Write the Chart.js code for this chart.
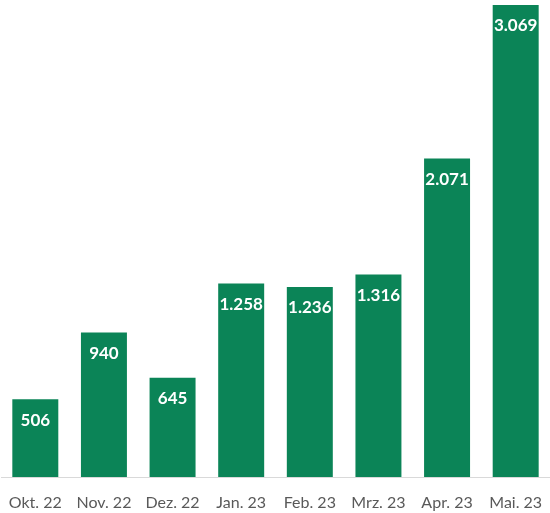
<html>
  <head>
    <title>Monatswerte</title>
    <script src="https://cdn.jsdelivr.net/npm/chart.js@4.4.0/dist/chart.umd.min.js"></script>
    <style>
      body { margin: 0; background: #fff; }
      #wrap { width: 550px; height: 513px; }
    </style>
  </head>
  <body>
    <div id="wrap"><canvas id="bar-chart"></canvas></div>
  </body>

  <script>
    var months = ["Okt. 22", "Nov. 22", "Dez. 22", "Jan. 23", "Feb. 23", "Mrz. 23", "Apr. 23", "Mai. 23"];
    var values = [506, 940, 645, 1258, 1236, 1316, 2071, 3069];
    var valueText = ["506", "940", "645", "1.258", "1.236", "1.316", "2.071", "3.069"];

    // white numbers just under the top of each bar
    var barLabels = {
      id: 'barLabels',
      afterDatasetsDraw: function(chart) {
        var ctx = chart.ctx;
        var meta = chart.getDatasetMeta(0);
        ctx.save();
        ctx.fillStyle = "#ffffff";
        ctx.font = "bold 17px Lato";
        ctx.textAlign = "center";
        ctx.textBaseline = "middle";
        for (var i = 0; i < meta.data.length; i++) {
          var bar = meta.data[i];
          ctx.fillText(valueText[i], bar.x, bar.y + 21);
        }
        ctx.restore();
      }
    };

    new Chart(document.getElementById("bar-chart"), {
      type: 'bar',
      data: {
        labels: months,
        datasets: [{
          data: values,
          backgroundColor: "#0b8457",
          barPercentage: 0.67,
          categoryPercentage: 1.0
        }]
      },
      options: {
        responsive: true,
        maintainAspectRatio: false,
        animation: false,
        layout: { padding: { top: 5, left: 1, right: 0, bottom: 0 } },
        plugins: {
          legend: { display: false },
          tooltip: { enabled: false }
        },
        scales: {
          x: {
            afterFit: function(axis) {
              axis.height = 36;
              axis.paddingLeft = 0;
              axis.paddingRight = 0;
            },
            grid: { display: false, drawTicks: false },
            border: { display: true, color: "#d9d9d9", width: 1 },
            ticks: {
              color: "#595959",
              font: { family: "Lato", size: 16 },
              padding: 16,
              maxRotation: 0,
              autoSkip: false
            }
          },
          y: {
            display: false,
            min: 0,
            max: 3069
          }
        }
      },
      plugins: [barLabels]
    });
  </script>
</html>
